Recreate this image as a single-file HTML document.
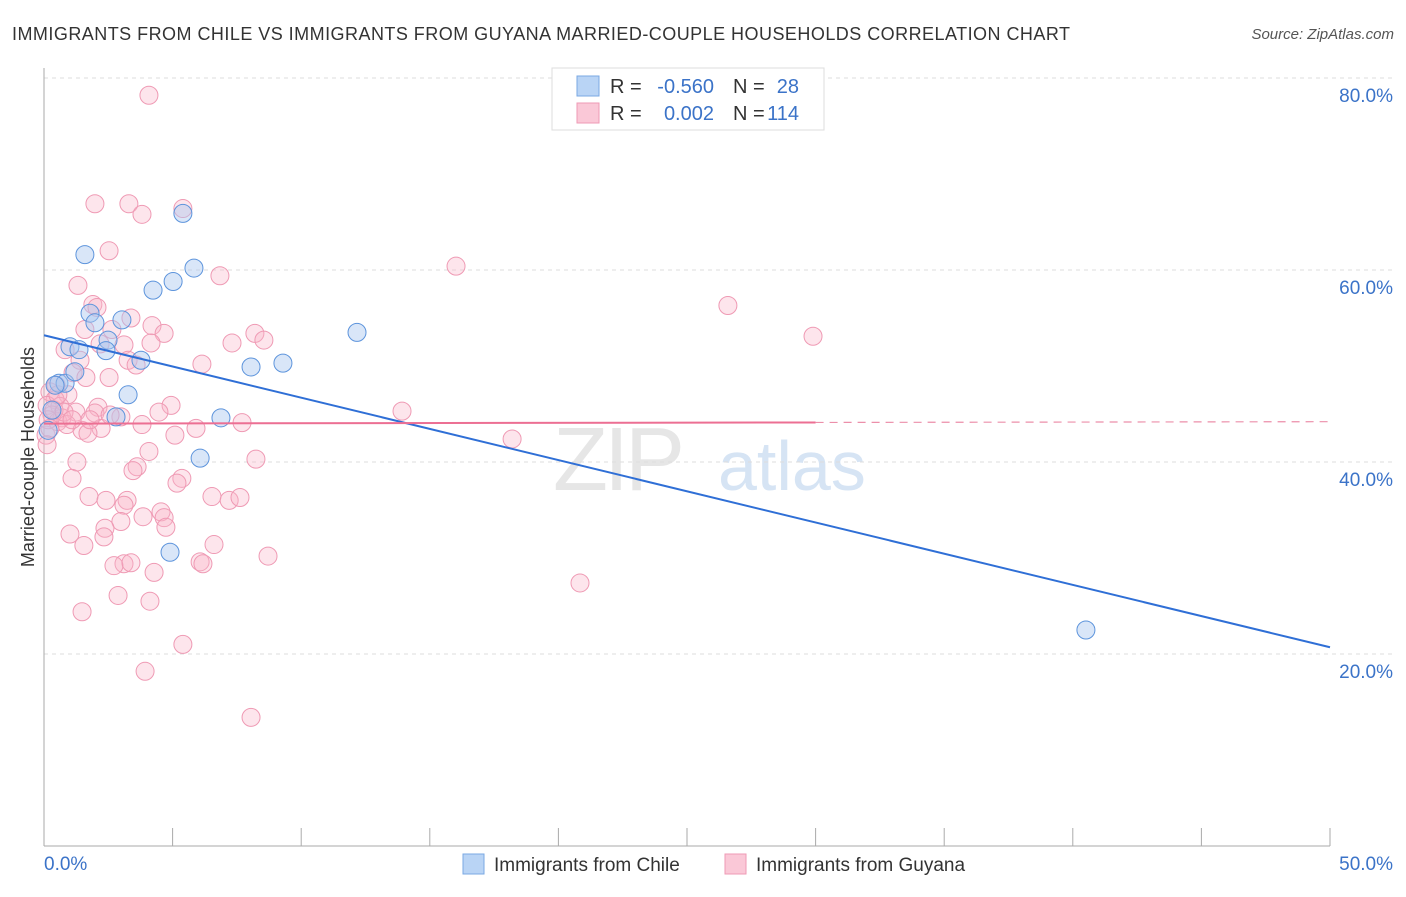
<!DOCTYPE html>
<html><head><meta charset="utf-8"><style>
body{margin:0;background:#fff;font-family:"Liberation Sans",sans-serif;}
svg text{font-family:"Liberation Sans",sans-serif;}
</style></head><body>
<svg id="chart" width="1406" height="892" xmlns="http://www.w3.org/2000/svg">
<text x="12" y="40" font-size="18" fill="#333" textLength="1058" lengthAdjust="spacing">IMMIGRANTS FROM CHILE VS IMMIGRANTS FROM GUYANA MARRIED-COUPLE HOUSEHOLDS CORRELATION CHART</text>
<text x="1394" y="39" font-size="15" fill="#555" font-style="italic" text-anchor="end">Source: ZipAtlas.com</text>
<g>
<text x="553" y="490" font-size="90" fill="#e6e6e6" font-family="Liberation Serif" letter-spacing="-4">ZIP</text>
<text x="718" y="490" font-size="70" fill="#d6e4f4">atlas</text>
</g>
<g id="grid"></g><g id="axes"></g><g id="pts"></g><g id="lines"></g>
<text transform="translate(34,457) rotate(-90)" font-size="18" fill="#333" text-anchor="middle">Married-couple Households</text>
<g>
<rect x="552" y="68" width="272" height="62" fill="#fff" stroke="#ddd"/>
<rect x="577" y="76" width="22" height="20" fill="#b9d4f5" stroke="#7aa8e3"/>
<rect x="577" y="103" width="22" height="20" fill="#fac8d7" stroke="#ef9ab4"/>
<text x="610" y="93" font-size="20" fill="#333">R =</text>
<text x="714" y="93" font-size="20" fill="#3b73c8" text-anchor="end">-0.560</text>
<text x="733" y="93" font-size="20" fill="#333">N =</text>
<text x="799" y="93" font-size="20" fill="#3b73c8" text-anchor="end">28</text>
<text x="610" y="120" font-size="20" fill="#333">R =</text>
<text x="714" y="120" font-size="20" fill="#3b73c8" text-anchor="end">0.002</text>
<text x="733" y="120" font-size="20" fill="#333">N =</text>
<text x="799" y="120" font-size="20" fill="#3b73c8" text-anchor="end">114</text>
</g>
<g>
<rect x="463" y="854" width="21" height="20" fill="#b9d4f5" stroke="#7aa8e3"/>
<text x="494" y="871" font-size="19" fill="#333">Immigrants from Chile</text>
<rect x="725" y="854" width="21" height="20" fill="#fac8d7" stroke="#ef9ab4"/>
<text x="756" y="871" font-size="19" fill="#333">Immigrants from Guyana</text>
</g>
</svg>
<script>
const yTicks=[20,40,60,80];
const yTickLabels=["20.0%","40.0%","60.0%","80.0%"];
const xEndLabels=["0.0%","50.0%"];
const chileX=[1.59,5.40,5.83,5.02,4.24,1.79,3.03,1.98,2.49,1.01,1.36,2.41,3.77,8.05,9.29,12.17,0.58,0.82,3.27,0.43,2.80,6.88,6.07,4.90,40.51,0.16,0.31,1.2];
const chileY=[61.6,65.9,60.2,58.8,57.9,55.5,54.8,54.5,52.7,52.0,51.7,51.6,50.6,49.9,50.3,53.5,48.2,48.2,47.0,48.0,44.7,44.6,40.4,30.6,22.5,43.3,45.4,49.4];
const guyX=[4.08,1.98,3.30,3.81,5.40,2.53,6.84,1.32,16.02,26.59,29.90,1.9,2.06,3.38,1.59,2.64,4.2,4.67,8.2,8.55,7.31,4.16,3.11,0.82,2.18,1.4,3.27,3.58,6.14,1.13,1.63,2.53,0.47,0.23,0.93,0.43,0.12,0.62,2.1,4.94,4.47,13.92,1.24,1.98,2.99,0.31,0.7,0.54,0.89,1.48,2.22,3.81,5.91,7.7,1.71,0.08,5.09,18.2,4.08,1.28,8.24,3.62,3.46,1.09,5.36,5.17,1.75,2.41,3.23,6.53,7.2,7.62,3.11,4.55,3.85,4.67,2.99,2.37,4.74,1.01,2.33,1.55,6.61,8.71,3.11,2.72,3.38,6.07,6.18,4.28,20.84,2.88,4.12,1.48,5.40,3.93,8.05,0.16,0.23,0.39,0.78,0.54,1.09,1.79,2.57,0.12];
const guyY=[78.2,66.9,66.9,65.8,66.4,62.0,59.4,58.4,60.4,56.3,53.1,56.4,56.1,55.0,53.8,53.8,54.2,53.4,53.4,52.7,52.4,52.4,52.2,51.7,52.3,50.6,50.6,50.1,50.2,49.3,48.8,48.8,48.0,47.3,47.0,46.5,45.9,45.8,45.7,45.9,45.2,45.3,45.2,45.1,44.7,44.9,44.6,44.2,43.9,43.3,43.5,43.9,43.5,44.1,43.0,42.8,42.8,42.4,41.1,40.0,40.3,39.5,39.1,38.3,38.3,37.8,36.4,36.0,36.0,36.4,36.0,36.3,35.5,34.8,34.3,34.2,33.8,33.1,33.2,32.5,32.2,31.3,31.4,30.2,29.4,29.2,29.5,29.6,29.4,28.5,27.4,26.1,25.5,24.4,21.0,18.2,13.4,44.4,43.5,45.4,45.2,47.0,44.4,44.4,44.9,41.8];
const chileTrend=[53.2,20.7];
const guyTrend=[44.0,44.2];
const X0=44,X1=1330,Y0=846,PX=9.6;
const xs=v=>X0+(v/50)*(X1-X0), ys=v=>Y0-v*PX;
const NS="http://www.w3.org/2000/svg";
function mk(t,a,p){const e=document.createElementNS(NS,t);for(const k in a)e.setAttribute(k,a[k]);p.appendChild(e);return e;}
const grid=document.getElementById('grid'),axes=document.getElementById('axes'),pts=document.getElementById('pts'),lines=document.getElementById('lines');
yTicks.forEach((t,i)=>{
 const g=mk('line',{x1:X0,x2:1394,y1:ys(t),y2:ys(t),stroke:'#ddd','stroke-dasharray':'4,4'},grid);
 
 
 const l=mk('text',{x:1393,y:ys(t)+24,'font-size':19,fill:'#3b73c8','text-anchor':'end'},grid);
 l.textContent=yTickLabels[i];
 
 
});
const ya=mk('line',{x1:X0,x2:X0,y1:68,y2:Y0,stroke:'#aaa'},axes);


const xa=mk('line',{x1:X0,x2:X1,y1:Y0,y2:Y0,stroke:'#aaa'},axes);


for(let i=0;i<=10;i++){
 const t=mk('line',{x1:xs(i*5),x2:xs(i*5),y1:828,y2:Y0,stroke:'#aaa'},axes);
 
 
}
const xl0=mk('text',{x:X0,y:870,'font-size':19,fill:'#3b73c8'},axes);xl0.textContent=xEndLabels[0];


const xl1=mk('text',{x:1393,y:870,'font-size':19,fill:'#3b73c8','text-anchor':'end'},axes);xl1.textContent=xEndLabels[1];


guyX.forEach((x,i)=>{
 const c=mk('circle',{cx:xs(x),cy:ys(guyY[i]),r:9,fill:'rgba(248,180,200,0.35)',stroke:'#ef9ab4','stroke-width':1},pts);
 
 
});
chileX.forEach((x,i)=>{
 const c=mk('circle',{cx:xs(x),cy:ys(chileY[i]),r:9,fill:'rgba(170,200,240,0.45)',stroke:'#5d94dc','stroke-width':1},pts);
 
 
});
const bl=mk('line',{x1:xs(0),y1:ys(chileTrend[0]),x2:xs(50),y2:ys(chileTrend[1]),stroke:'#2f6fd6','stroke-width':2},lines);


const gm=guyTrend[0]+(guyTrend[1]-guyTrend[0])*0.6;
const pl=mk('line',{x1:xs(0),y1:ys(guyTrend[0]),x2:xs(30),y2:ys(gm),stroke:'#ec6f93','stroke-width':2},lines);


const pd=mk('line',{x1:xs(30),y1:ys(gm),x2:xs(50),y2:ys(guyTrend[1]),stroke:'#ec8faa','stroke-width':1.2,'stroke-dasharray':'8,6'},lines);


</script>
</body></html>
